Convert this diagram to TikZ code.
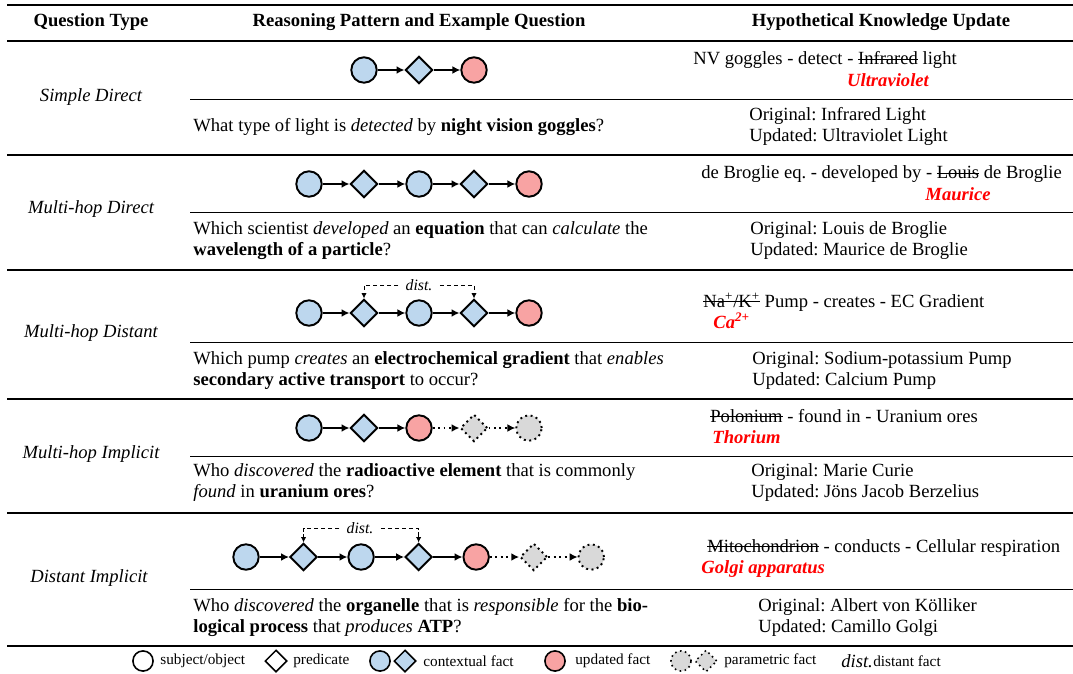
\documentclass[tikz,border=0pt]{standalone}
\usepackage{fontspec}
\setmainfont{LiberationSerif}[Extension=.ttf, UprightFont=*-Regular, BoldFont=*-Bold, ItalicFont=*-Italic, BoldItalicFont=*-BoldItalic]
\usetikzlibrary{positioning,shapes.geometric,arrows.meta}

\definecolor{ctxblue}{HTML}{BDD7EE}
\definecolor{updred}{HTML}{F8A3A3}
\definecolor{pargray}{HTML}{D9D9D9}

% struck-out word with its replacement set below it
\newsavebox\strikebox
\newcommand{\strikeword}[1]{\sbox\strikebox{#1}\rlap{\rule[0.27em]{\wd\strikebox}{0.5pt}}\usebox\strikebox}
\newcommand{\swapto}[2]{\begin{tabular}[t]{@{}c@{}}\strikeword{#1}\\\makebox[0pt]{\bfseries\itshape\color{red}#2}\end{tabular}}

\begin{document}
\fontsize{10.6}{12}\selectfont\frenchspacing
\begin{tikzpicture}[x=0.57pt, y=-0.57pt, node distance=31.35pt, on grid,
    ent/.style = {circle, draw, line width=1.1pt, minimum size=14.5pt, inner sep=0pt, fill=ctxblue},
    rel/.style = {diamond, draw, line width=1.1pt, minimum size=15.5pt, inner sep=0pt, fill=ctxblue},
    upd/.style = {ent, fill=updred},
    pent/.style = {ent, fill=pargray, dotted},
    prel/.style = {rel, fill=pargray, dotted},
    hop/.style = {line width=1.1pt, -{Latex[length=4.5pt,width=4.5pt]}},
    phop/.style = {hop, dotted, line width=1.4pt},
    distline/.style = {line width=0.5pt, dash pattern=on 2.5pt off 1.5pt, -{Latex[length=3pt,width=3pt]}},
    distlbl/.style = {font=\small\itshape, inner sep=4pt},
    head/.style = {font=\bfseries},
    qtype/.style = {font=\itshape},
    qtext/.style = {anchor=west, align=left, inner sep=0pt},
    kb/.style = {anchor=base west, inner sep=0pt},
    heavyrule/.style = {line width=1.2pt},
    rowrule/.style = {line width=0.7pt},
    subrule/.style = {line width=0.5pt},
    legtxt/.style = {anchor=west, inner sep=0pt, font=\fontsize{8.7}{10}\selectfont}]
    \useasboundingbox (0,0) rectangle (1073,673);

    % table rules
    \draw[heavyrule] (7,5) -- (1073,5);
    \draw[rowrule] (7,41) -- (1073,41);
    \foreach \y in {155,270,399,513}
        \draw[rowrule] (7,\y) -- (1073,\y);
    \foreach \y in {99,212,342,456,589}
        \draw[subrule] (190,\y) -- (1073,\y);
    \draw[heavyrule] (7,646) -- (1073,646);

    % header
    \node[head] (h1) at (91,22)  {Question Type};
    \node[head] (h2) at (419,22) {Reasoning Pattern and Example Question};
    \node[head] (h3) at (881,22) {Hypothetical Knowledge Update};

    % question types
    \node[qtype] (t1) at (91,97)  {Simple Direct};
    \node[qtype] (t2) at (91,209) {Multi-hop Direct};
    \node[qtype] (t3) at (91,333) {Multi-hop Distant};
    \node[qtype] (t4) at (91,454) {Multi-hop Implicit};
    \node[qtype] (t5) at (89,578) {Distant Implicit};

    % simple direct
    \node[ent] (s1) at (364,70) {};
    \node[rel] (p1) [right=of s1] {};
    \node[upd] (o1) [right=of p1] {};
    \draw[hop] (s1) -- (p1);
    \draw[hop] (p1) -- (o1);

    % multi-hop direct
    \node[ent] (s2)  at (309,184) {};
    \node[rel] (p2a) [right=of s2]  {};
    \node[ent] (m2)  [right=of p2a] {};
    \node[rel] (p2b) [right=of m2]  {};
    \node[upd] (o2)  [right=of p2b] {};
    \draw[hop] (s2) -- (p2a);
    \draw[hop] (p2a) -- (m2);
    \draw[hop] (m2) -- (p2b);
    \draw[hop] (p2b) -- (o2);

    % multi-hop distant
    \node[ent] (s3)  at (309,313) {};
    \node[rel] (p3a) [right=of s3]  {};
    \node[ent] (m3)  [right=of p3a] {};
    \node[rel] (p3b) [right=of m3]  {};
    \node[upd] (o3)  [right=of p3b] {};
    \draw[hop] (s3) -- (p3a);
    \draw[hop] (p3a) -- (m3);
    \draw[hop] (m3) -- (p3b);
    \draw[hop] (p3b) -- (o3);
    \node[distlbl] (d3) at (419,285) {dist.};
    \draw[distline] (d3.west) -| (p3a.north);
    \draw[distline] (d3.east) -| (p3b.north);

    % multi-hop implicit
    \node[ent]  (s4)  at (309,428) {};
    \node[rel]  (p4)  [right=of s4]  {};
    \node[upd]  (o4)  [right=of p4]  {};
    \node[prel] (q4)  [right=of o4]  {};
    \node[pent] (r4)  [right=of q4]  {};
    \draw[hop] (s4) -- (p4);
    \draw[hop] (p4) -- (o4);
    \draw[phop] (o4) -- (q4);
    \draw[phop] (q4) -- (r4);

    % distant implicit
    \begin{scope}[node distance=32.8pt]
        \node[ent]  (s5)  at (246,557) {};
        \node[rel]  (p5a) [right=of s5]  {};
        \node[ent]  (m5)  [right=of p5a] {};
        \node[rel]  (p5b) [right=of m5]  {};
        \node[upd]  (o5)  [right=of p5b] {};
        \node[prel] (q5)  [right=of o5]  {};
        \node[pent] (r5)  [right=of q5]  {};
    \end{scope}
    \draw[hop] (s5) -- (p5a);
    \draw[hop] (p5a) -- (m5);
    \draw[hop] (m5) -- (p5b);
    \draw[hop] (p5b) -- (o5);
    \draw[phop] (o5) -- (q5);
    \draw[phop] (q5) -- (r5);
    \node[distlbl] (d5) at (360,528) {dist.};
    \draw[distline] (d5.west) -| (p5a.north);
    \draw[distline] (d5.east) -| (p5b.north);

    % example questions
    \node[qtext] (x1) at (193,127)   {What type of light is \textit{detected} by \textbf{night vision goggles}?};
    \node[qtext] (x2) at (193,240.5) {Which scientist \textit{developed} an \textbf{equation} that can \textit{calculate} the\\\textbf{wavelength of a particle}?};
    \node[qtext] (x3) at (193,370.5) {Which pump \textit{creates} an \textbf{electrochemical gradient} that \textit{enables}\\\textbf{secondary active transport} to occur?};
    \node[qtext] (x4) at (193,482.5) {Who \textit{discovered} the \textbf{radioactive element} that is commonly\\\textit{found} in \textbf{uranium ores}?};
    \node[qtext] (x5) at (193,617.5) {Who \textit{discovered} the \textbf{organelle} that is \textit{responsible} for the \textbf{bio-}\\\textbf{logical process} that \textit{produces} \textbf{ATP}?};

    % knowledge updates
    \node[kb] (k1) at (693,65)  {NV goggles - detect - \swapto{Infrared}{Ultraviolet} light};
    \node[kb] (k2) at (701,179) {de Broglie eq. - developed by - \swapto{Louis}{Maurice} de Broglie};
    \node[kb] (k3) at (703,307) {\swapto{Na\textsuperscript{+}/K\textsuperscript{+}}{Ca\textsuperscript{2+}} Pump - creates - EC Gradient};
    \node[kb] (k4) at (710,422) {\swapto{Polonium}{Thorium} - found in - Uranium ores};
    \node[kb] (k5) at (707,552) {\swapto{Mitochondrion}{Golgi apparatus} - conducts - Cellular respiration};

    \node[qtext] (u1) at (749,126.5) {Original: Infrared Light\\Updated: Ultraviolet Light};
    \node[qtext] (u2) at (750,240.5) {Original: Louis de Broglie\\Updated: Maurice de Broglie};
    \node[qtext] (u3) at (752,370.5) {Original: Sodium-potassium Pump\\Updated: Calcium Pump};
    \node[qtext] (u4) at (751,482.5) {Original: Marie Curie\\Updated: Jöns Jacob Berzelius};
    \node[qtext] (u5) at (758,617.5) {Original: Albert von Kölliker\\Updated: Camillo Golgi};

    % legend
    \begin{scope}[ent/.append style={minimum size=11.5pt, line width=0.9pt},
                  rel/.append style={minimum size=12.5pt, line width=0.9pt}]
        \node[ent, fill=white] (l1) at (143,661) {};
        \node[legtxt] (lt1) at (160,661) {subject/object};
        \node[rel, fill=white] (l2) at (276,661) {};
        \node[legtxt] (lt2) at (293,661) {predicate};
        \node[ent] (l3a) at (380,661) {};
        \node[rel] (l3b) at (405,661) {};
        \node[legtxt] (lt3) at (423,661) {contextual fact};
        \node[upd] (l4) at (555,661) {};
        \node[legtxt] (lt4) at (575,661) {updated fact};
        \node[pent] (l5a) at (681,661) {};
        \node[prel] (l5b) at (706,661) {};
        \node[legtxt] (lt5) at (724,661) {parametric fact};
        \node[legtxt, font=\itshape] (lt6) at (841,661) {dist.};
        \node[legtxt] (lt7) at (873,661) {distant fact};
    \end{scope}
\end{tikzpicture}
\end{document}
